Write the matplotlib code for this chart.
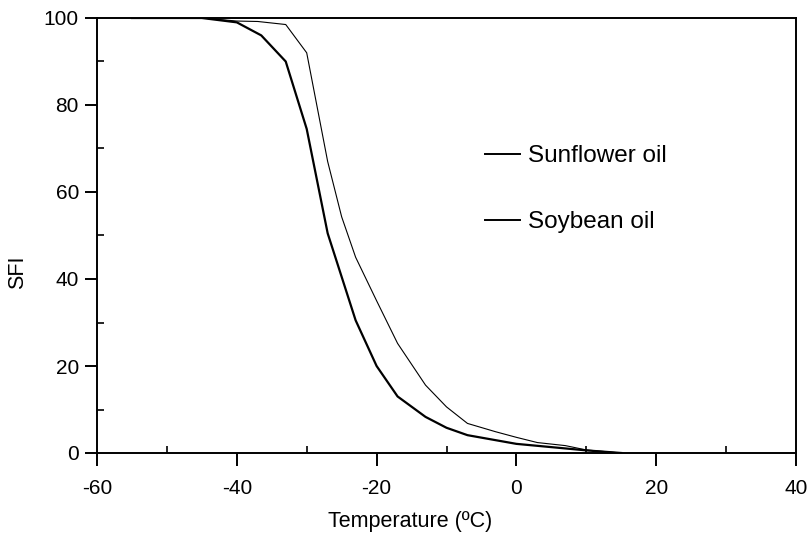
import matplotlib
matplotlib.use("Agg")
import matplotlib.pyplot as plt
from matplotlib.ticker import MultipleLocator

plt.rcParams['font.family'] = ['Liberation Sans', 'DejaVu Sans']
plt.rcParams['axes.unicode_minus'] = False

# Solid fat index vs temperature
sunflower_temp = [-55, -45, -40, -36.5, -33, -30, -27, -23, -20, -17, -13, -10, -7, 0, 10, 15]
sunflower_sfi = [100, 100, 99, 96, 90, 74.5, 50.5, 30.5, 20, 13, 8.3, 5.8, 4.1, 2.1, 0.6, 0]

soybean_temp = [-55, -45, -40, -37, -33, -30, -27, -25, -23, -20, -17, -13, -10, -7, -3, 0, 3, 7, 10, 15]
soybean_sfi = [100, 100, 99.3, 99.2, 98.5, 92, 67, 54.3, 45, 35, 25.2, 15.6, 10.6, 6.8, 4.9, 3.6, 2.4, 1.7, 0.7, 0]

W, H = 810, 533
fig = plt.figure(figsize=(W / 100, H / 100), dpi=100)
ax = fig.add_axes([97 / W, 1 - 453 / H, (796 - 97) / W, (453 - 18) / H])

l1, = ax.plot(sunflower_temp, sunflower_sfi, color='black', lw=1.6, label='Sunflower oil')
l2, = ax.plot(soybean_temp, soybean_sfi, color='black', lw=0.8, label='Soybean oil')

ax.set_xlim(-60, 40)
ax.set_ylim(0, 100)
ax.xaxis.set_major_locator(MultipleLocator(20))
ax.xaxis.set_minor_locator(MultipleLocator(10))
ax.yaxis.set_major_locator(MultipleLocator(20))
ax.yaxis.set_minor_locator(MultipleLocator(10))

for s in ax.spines.values():
    s.set_linewidth(1.4)

ax.tick_params(which='major', direction='out', length=9, width=1.4, labelsize=15)
ax.tick_params(axis='y', which='major', pad=4)
ax.tick_params(axis='x', which='major', pad=10)
ax.tick_params(which='minor', direction='in', length=5, width=1.2)

# Axis titles placed in figure pixels
fig.text(410 / W, 1 - 522 / H, 'Temperature (ºC)', fontsize=15.5, ha='center', va='center')
fig.text(17.5 / W, 1 - 272 / H, 'SFI', fontsize=15.5, ha='center', va='center', rotation=90)

leg = ax.legend(handles=[l1, l2], loc='upper left', bbox_to_anchor=(485 / W, 1 - 145 / H),
                bbox_transform=fig.transFigure, frameon=False, fontsize=17.5,
                handlelength=1.45, handletextpad=0.3, labelspacing=1.82, borderpad=0,
                borderaxespad=0)
for line in leg.get_lines():
    line.set_linewidth(1.4)

fig.savefig('out.png', dpi=100)
